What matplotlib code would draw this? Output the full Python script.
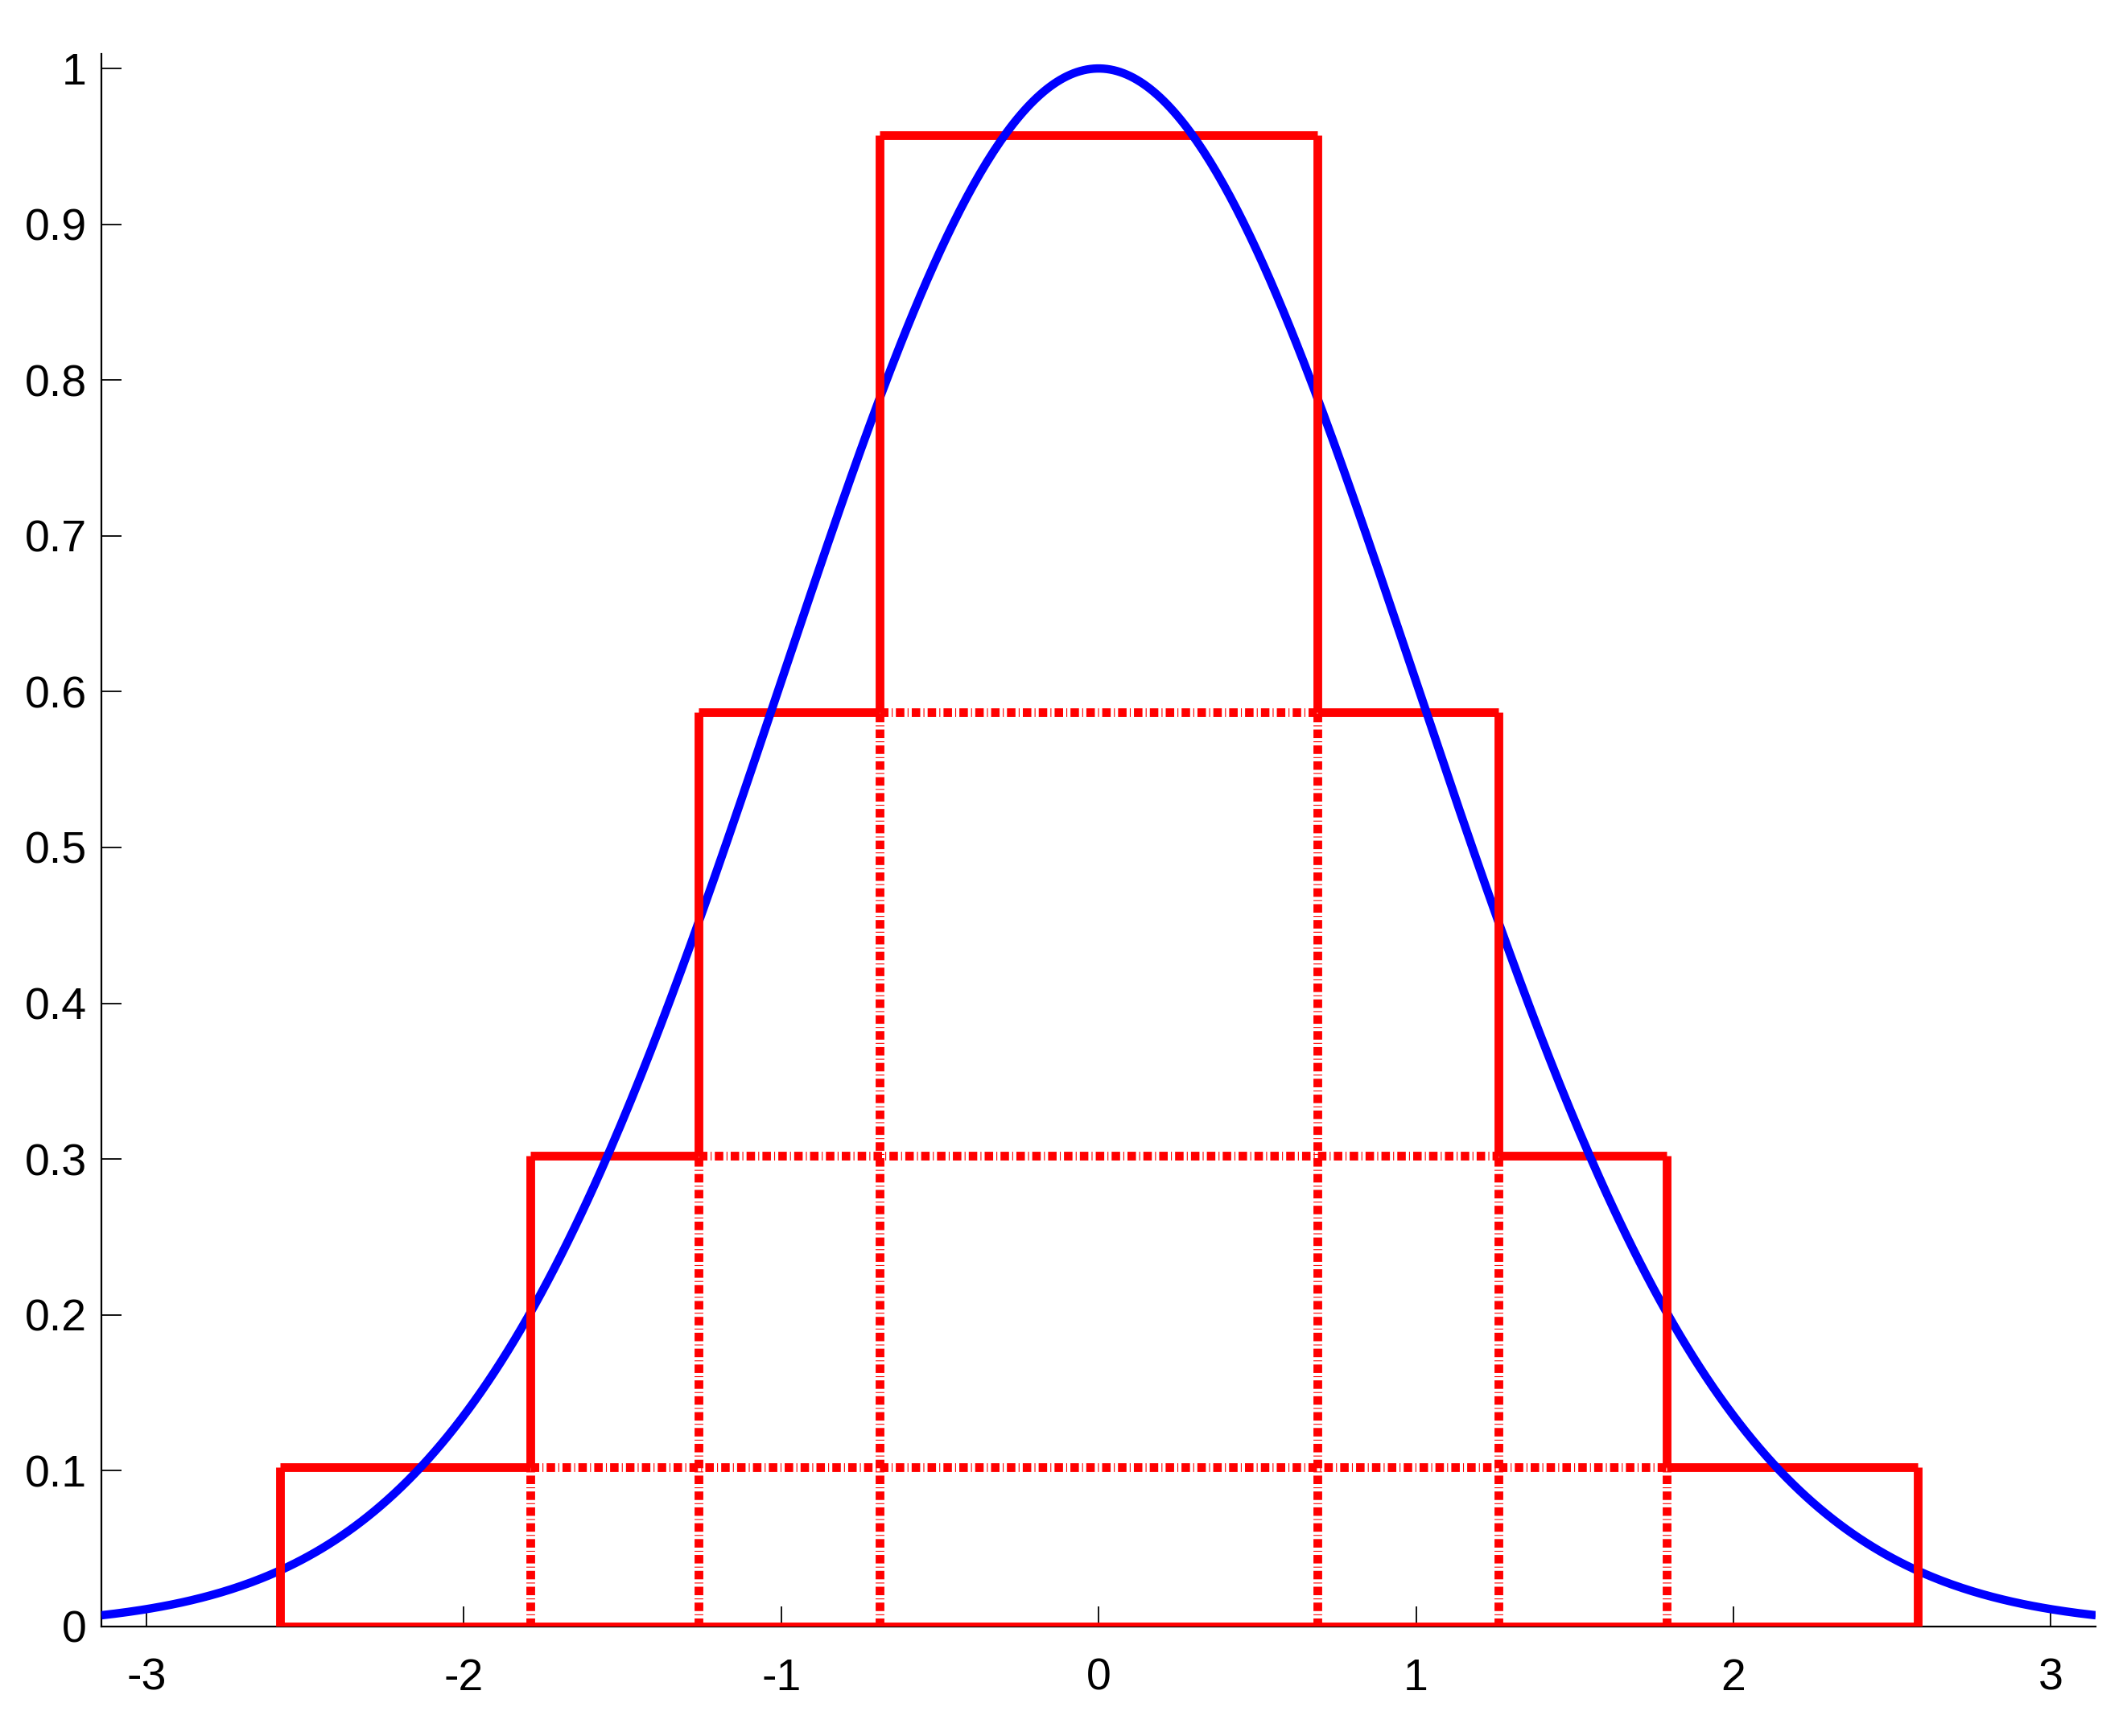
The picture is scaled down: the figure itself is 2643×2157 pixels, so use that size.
import numpy as np
import matplotlib.pyplot as plt

plt.rcParams['font.family'] = ['Liberation Sans', 'DejaVu Sans']
plt.rcParams['lines.scale_dashes'] = False

# ziggurat layer edges (right half, mirrored to the left) and layer heights
x_edges = [0.69, 1.26, 1.79, 2.58]
y_levels = [0.957, 0.587, 0.302, 0.102]

x_ticks = [-3, -2, -1, 0, 1, 2, 3]
y_ticks = [0, 0.1, 0.2, 0.3, 0.4, 0.5, 0.6, 0.7, 0.8, 0.9, 1]
y_ticklabels = ['0', '0.1', '0.2', '0.3', '0.4', '0.5', '0.6', '0.7', '0.8', '0.9', '1']

red = '#ff0000'
lw = 7.8
dashdot = (0, (7.6, 2.9, 0.8, 2.9))

fig = plt.figure(figsize=(26.43, 21.57), dpi=100)
ax = fig.add_axes([0.0477, 0.0631, 0.9376, 0.9058])

# bell curve
x = np.linspace(-np.pi, np.pi, 600)
ax.plot(x, np.exp(-x ** 2 / 2), color='#0000ff', lw=7.5, zorder=3,
        solid_capstyle='butt')

# solid staircase outline
n = len(x_edges)
for i in range(n):
    xe = x_edges[i]
    top = y_levels[i]
    bottom = y_levels[i + 1] if i + 1 < n else 0
    prev = x_edges[i - 1] if i > 0 else -x_edges[0]
    # horizontal step tops
    if i == 0:
        ax.hlines(top, -xe, xe, color=red, lw=lw, zorder=2)
    else:
        ax.hlines(top, prev, xe, color=red, lw=lw, zorder=2)
        ax.hlines(top, -xe, -prev, color=red, lw=lw, zorder=2)
    # vertical risers
    ax.vlines([-xe, xe], bottom, top, color=red, lw=lw, zorder=4)
ax.hlines(0, -x_edges[-1], x_edges[-1], color=red, lw=lw, zorder=4)

# dash-dot inner lines
for i in range(n - 1):
    xe = x_edges[i]
    ax.plot([-xe, xe], [y_levels[i + 1]] * 2, color=red, lw=lw,
            linestyle=dashdot, dash_capstyle='butt', zorder=2)
    ax.plot([xe, xe], [0, y_levels[i + 1]], color=red, lw=lw,
            linestyle=dashdot, dash_capstyle='butt', zorder=4)
    ax.plot([-xe, -xe], [0, y_levels[i + 1]], color=red, lw=lw,
            linestyle=dashdot, dash_capstyle='butt', zorder=4)

ax.set_xlim(-np.pi, np.pi)
ax.set_ylim(0, 1.0093)
ax.set_xticks(x_ticks)
ax.set_xticklabels([str(t) for t in x_ticks])
ax.set_yticks(y_ticks)
ax.set_yticklabels(y_ticklabels)

for s in ['top', 'right']:
    ax.spines[s].set_visible(False)
for s in ['left', 'bottom']:
    ax.spines[s].set_linewidth(1.6)
ax.tick_params(direction='in', length=18, width=1.3, labelsize=40)
ax.tick_params(axis='y', pad=13)
ax.tick_params(axis='x', pad=28)

fig.savefig('out.png', dpi=100)
